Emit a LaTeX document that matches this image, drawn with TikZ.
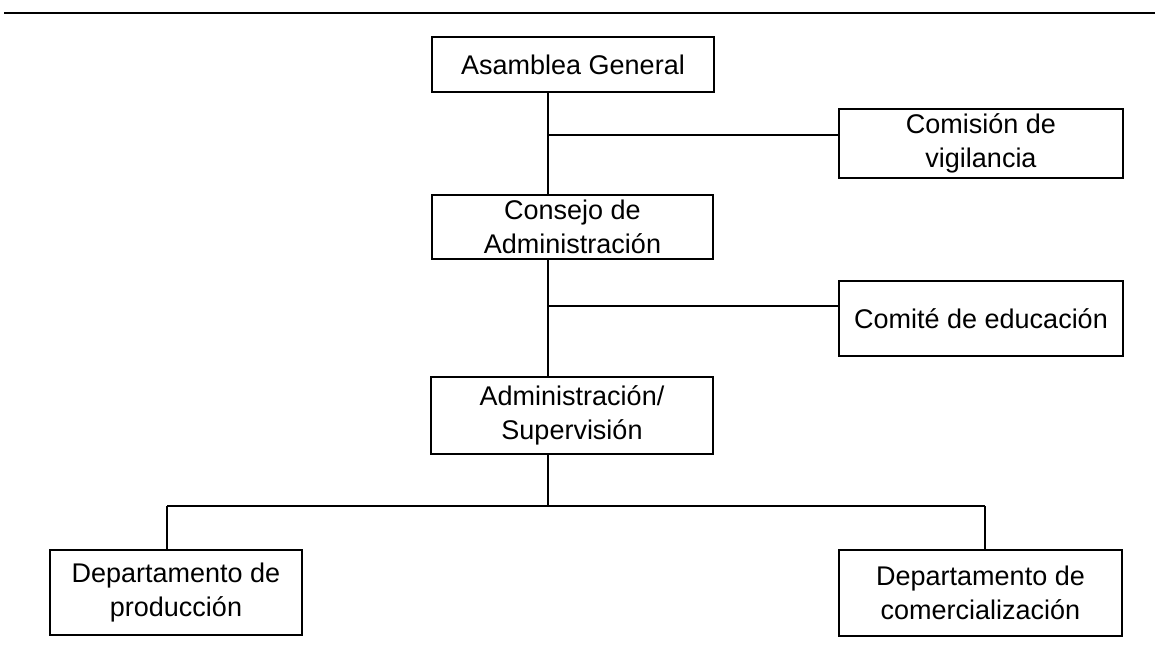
\documentclass[tikz,border=0pt]{standalone}
\usepackage{fontspec}
\setmainfont{Liberation Sans}
\begin{document}
\begin{tikzpicture}[x=1pt,y=-1pt,
  box/.style={draw, line width=1.3pt, rectangle, align=center, inner sep=0pt,
    font=\fontsize{27}{34}\selectfont},
  link/.style={line width=1.2pt}]
\useasboundingbox (0,0) rectangle (1155,645);
\coordinate (r1) at (4,13);
\coordinate (r2) at (1155,13);
\draw[line width=2.2pt] (r1) -- (r2);

\node[box, minimum width=282pt, minimum height=55pt] (asm) at (573,64.5) {Asamblea General};
\node[box, minimum width=284pt, minimum height=69pt] (vig) at (981,143.5) {Comisión de\\vigilancia};
\node[box, minimum width=281pt, minimum height=64pt] (cons) at (572.5,227) {Consejo de\\Administración};
\node[box, minimum width=284pt, minimum height=75pt] (edu) at (981,318.5) {Comité de educación};
\node[box, minimum width=282pt, minimum height=77pt] (adm) at (572,415.5) {Administración/\\Supervisión};
\node[box, minimum width=252pt, minimum height=85pt] (prod) at (176,592.5) {Departamento de\\producción};
\node[box, minimum width=283pt, minimum height=86pt] (comer) at (980.5,593) {Departamento de\\comercialización};

\coordinate (j1) at (548,135);
\coordinate (j2) at (548,306);
\coordinate (j3) at (548,506);
\coordinate (jl) at (167,506);
\coordinate (jr) at (985,506);

\draw[link] (asm.south -| j1) -- (cons.north -| j1);
\draw[link] (j1) -- (j1 -| vig.west);
\draw[link] (cons.south -| j2) -- (adm.north -| j2);
\draw[link] (j2) -- (j2 -| edu.west);
\draw[link] (adm.south -| j3) -- (j3);
\draw[link] (jl) -- (jr);
\draw[link] (jl) -- (jl |- prod.north);
\draw[link] (jr) -- (jr |- comer.north);
\end{tikzpicture}
\end{document}
